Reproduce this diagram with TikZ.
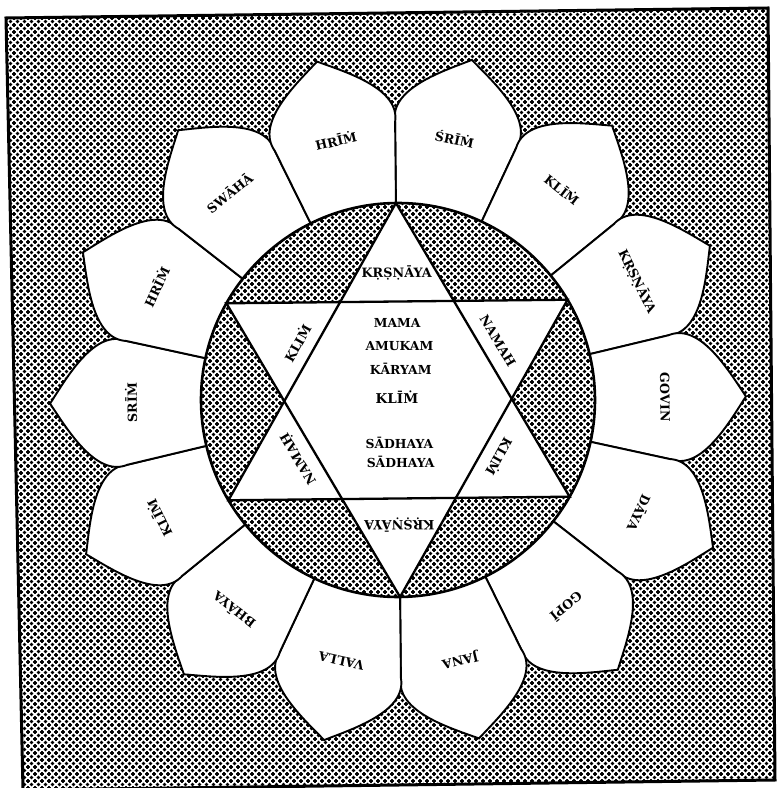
\documentclass[tikz,border=0pt]{standalone}
\usepackage{fontspec}
\setmainfont{DejaVu Serif}
\usetikzlibrary{patterns}
\pgfdeclarepatternformonly{halftone}{\pgfqpoint{-2.5pt}{-2.5pt}}{\pgfqpoint{9.5pt}{9.5pt}}{\pgfqpoint{7pt}{7pt}}{%
  \pgfpathcircle{\pgfqpoint{0pt}{0pt}}{1.9pt}%
  \pgfpathcircle{\pgfqpoint{3.5pt}{3.5pt}}{1.9pt}%
  \pgfpathcircle{\pgfqpoint{7pt}{7pt}}{1.9pt}%
  \pgfpathcircle{\pgfqpoint{7pt}{0pt}}{1.9pt}%
  \pgfpathcircle{\pgfqpoint{0pt}{7pt}}{1.9pt}%
  \pgfusepath{fill}%
}
\tikzset{
  dotfill/.style={pattern=halftone},
  petalline/.style={line width=1.9pt, line join=miter},
  ringline/.style={line width=2.6pt},
  starline/.style={line width=2.3pt, line join=miter},
  frameline/.style={line width=3pt},
  plbl/.style={font=\fontsize{12.6}{13}\selectfont\bfseries, inner sep=0pt},
  slbl/.style={font=\fontsize{12.8}{13}\selectfont\bfseries, inner sep=0pt},
  clbl/.style={font=\fontsize{12.4}{13}\selectfont\bfseries, inner sep=0pt},
}
\begin{document}
\begin{tikzpicture}[x=1pt,y=1pt]
\useasboundingbox (0,0) rectangle (777,788);
\fill[white] (0,0) rectangle (777,788);
% frame
\coordinate (TL) at (6,770);
\coordinate (TR) at (768,780);
\coordinate (BR) at (775,8);
\coordinate (BL) at (23,-2);
\fill[dotfill] (TL) -- (TR) -- (BR) -- (BL) -- cycle;
\draw[frameline] (TL) -- (TR) -- (BR) -- (BL) -- cycle;
% petals
\foreach \i in {0,...,13}{
  \pgfmathsetmacro{\a}{77.1429-25.7143*\i+0.6}
  \begin{scope}[shift={(398,388)}, rotate=\a]
    \filldraw[fill=white, petalline] (0,0) -- (-12.857:278)
      .. controls (303,-75) and (332,-24) .. (348,0)
      .. controls (332,24) and (303,75) .. (12.857:278) -- cycle;
  \end{scope}
}
% ring and star
\begin{scope}[shift={(398,388)}, rotate=0.6]
  \fill[white] (0,0) circle (197);
  \fill[dotfill] (0,0) circle (197);
  \draw[ringline] (0,0) circle (197);
  \coordinate (u1) at (90:197);
  \coordinate (u2) at (210:197);
  \coordinate (u3) at (330:197);
  \coordinate (d1) at (270:197);
  \coordinate (d2) at (30:197);
  \coordinate (d3) at (150:197);
  \fill[white] (u1) -- (u2) -- (u3) -- cycle;
  \fill[white] (d1) -- (d2) -- (d3) -- cycle;
  \draw[starline] (u1) -- (u2) -- (u3) -- cycle;
  \draw[starline] (d1) -- (d2) -- (d3) -- cycle;
  % centre text
  \node[clbl] (c1) at (0,77) {MAMA};
  \node[clbl] (c2) at (2,54) {AMUKAM};
  \node[clbl] (c3) at (3,31) {KĀRYAM};
  \node[clbl, font=\fontsize{13.5}{14}\selectfont\bfseries] (c4) at (-1,3) {KLĪṀ};
  \node[clbl] (c5) at (1,-43) {SĀDHAYA};
  \node[clbl] (c6) at (2,-62) {SĀDHAYA};
  % star point labels
  \node[slbl, rotate=0.6] (s1) at (90:127) {KṚṢṆĀYA};
  \node[slbl, rotate=-59.4] (s2) at (30:116) {NAMAH};
  \node[slbl, rotate=-119.4] (s3) at (-30:117) {KLIṀ};
  \node[slbl, rotate=180.6] (s4) at (-90:125) {KṚṢṆĀYA};
  \node[slbl, rotate=120.6] (s5) at (-150:115) {NAMAḤ};
  \node[slbl, rotate=60.6] (s6) at (150:116) {KLIṀ};
\end{scope}
% petal labels
\begin{scope}[shift={(398,388)}]
\foreach \i/\t in {0/ŚRĪṀ,1/KLĪṀ,2/KṚṢṆĀYA,3/GOVIN,4/DĀYA,5/GOPĪ,6/JANA,7/VALLA,8/BHĀYA,9/KLĪṀ,10/SRĪṀ,11/HRĪṀ,12/SWĀHĀ,13/HRĪṀ}{
  \pgfmathsetmacro{\a}{77.1429-25.7143*\i+0.6}
  \pgfmathsetmacro{\r}{\a-90}
  \node[plbl, rotate=\r] (p\i) at (\a:267) {\t};
}
\end{scope}
\end{tikzpicture}
\end{document}
